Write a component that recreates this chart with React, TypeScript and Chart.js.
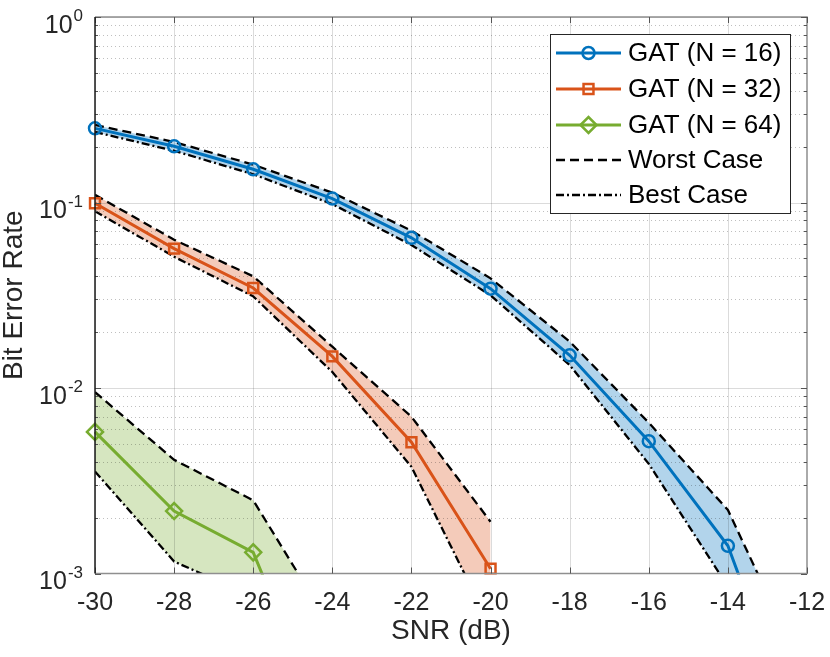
import React, { useEffect, useRef } from 'react';
import { Chart, registerables } from 'chart.js';

Chart.register(...registerables);

const FONT = "'Liberation Sans', Arial, Helvetica, sans-serif";
const TEXT = '#262626';

// ---- data ----
const snr16 = [-30, -28, -26, -24, -22, -20, -18, -16, -14, -12];
const ber16 = [0.251, 0.201, 0.151, 0.105, 0.0645, 0.0343, 0.015, 0.00517, 0.00141, 0.0001];
const worst16 = [0.262, 0.212, 0.16, 0.113, 0.0705, 0.039, 0.0178, 0.0065, 0.0022, 0.00027];
const best16 = [0.24, 0.19, 0.142, 0.098, 0.059, 0.0316, 0.0133, 0.0039, 0.00085, 0.00003];

const snr32 = [-30, -28, -26, -24, -22, -20];
const ber32 = [0.099, 0.0564, 0.0346, 0.0148, 0.0051, 0.00106];
const worst32 = [0.11, 0.063, 0.04, 0.0167, 0.007, 0.0019];
const best32 = [0.0898, 0.051, 0.0312, 0.0122, 0.00376, 0.00052];

const snr64 = [-30, -28, -26, -24];
const ber64 = [0.0058, 0.00217, 0.0013, 0.00012];
const worst64 = [0.0095, 0.0041, 0.00248, 0.0005];
const best64 = [0.00355, 0.00116, 0.00075, 0.00005];

const xTicks = [-30, -28, -26, -24, -22, -20, -18, -16, -14, -12];
const yDecades = [-3, -2, -1, 0];
const seriesLabels = ['GAT (N = 16)', 'GAT (N = 32)', 'GAT (N = 64)'];
const boundLabels = ['Worst Case', 'Best Case'];
const seriesColors = ['#0072BD', '#D95319', '#77AC30'];
const fillColors = ['rgba(0,114,189,0.3)', 'rgba(217,83,25,0.3)', 'rgba(119,172,48,0.3)'];
const markerStyles = ['circle', 'rect', 'rectRot'];
const markerRadii = [6, 7, 8];

const WORST_DASH = [9, 5];
const BEST_DASH = [8, 3, 2, 3];
const BOUND_WIDTH = 2.3;

const pts = (xs: number[], ys: number[]) => xs.map((x, i) => ({ x, y: ys[i] }));

const series = [
  { snr: snr16, ber: ber16, worst: worst16, best: best16 },
  { snr: snr32, ber: ber32, worst: worst32, best: best32 },
  { snr: snr64, ber: ber64, worst: worst64, best: best64 },
];

function drawMarker(ctx: CanvasRenderingContext2D, style: string, x: number, y: number, r: number) {
  ctx.beginPath();
  if (style === 'circle') {
    ctx.arc(x, y, r, 0, Math.PI * 2);
  } else if (style === 'rect') {
    const s = r * Math.SQRT1_2;
    ctx.rect(x - s, y - s, 2 * s, 2 * s);
  } else {
    ctx.moveTo(x - r, y);
    ctx.lineTo(x, y - r);
    ctx.lineTo(x + r, y);
    ctx.lineTo(x, y + r);
    ctx.closePath();
  }
  ctx.stroke();
}

const decorPlugin = {
  id: 'matlabDecor',
  beforeDatasetsDraw(chart: any) {
    const { ctx, chartArea: a, scales } = chart;
    const xs = scales.x;
    const ys = scales.y;
    ctx.save();
    ctx.beginPath();
    ctx.rect(a.left, a.top, a.right - a.left, a.bottom - a.top);
    ctx.clip();
    // minor dotted grid
    ctx.lineWidth = 1;
    ctx.strokeStyle = 'rgba(0,0,0,0.25)';
    ctx.setLineDash([1, 3]);
    for (const e of yDecades.slice(0, -1)) {
      for (let k = 2; k <= 9; k++) {
        const py = Math.round(ys.getPixelForValue(k * Math.pow(10, e))) + 0.5;
        ctx.beginPath();
        ctx.moveTo(a.left, py);
        ctx.lineTo(a.right, py);
        ctx.stroke();
      }
    }
    // major grid
    ctx.setLineDash([]);
    ctx.strokeStyle = 'rgba(0,0,0,0.14)';
    for (const t of xTicks) {
      const px = Math.round(xs.getPixelForValue(t)) + 0.5;
      ctx.beginPath();
      ctx.moveTo(px, a.top);
      ctx.lineTo(px, a.bottom);
      ctx.stroke();
    }
    for (const e of yDecades) {
      const py = Math.round(ys.getPixelForValue(Math.pow(10, e))) + 0.5;
      ctx.beginPath();
      ctx.moveTo(a.left, py);
      ctx.lineTo(a.right, py);
      ctx.stroke();
    }
    ctx.restore();
  },
  afterDatasetsDraw(chart: any) {
    const { ctx, chartArea: a, scales } = chart;
    const xs = scales.x;
    const ys = scales.y;
    ctx.save();
    ctx.setLineDash([]);
    // box: top/right/bottom gray, left dark
    ctx.lineWidth = 1.5;
    ctx.strokeStyle = '#8f8f8f';
    ctx.beginPath();
    ctx.moveTo(a.left, a.top);
    ctx.lineTo(a.right, a.top);
    ctx.lineTo(a.right, a.bottom);
    ctx.lineTo(a.left, a.bottom);
    ctx.stroke();
    // ticks
    ctx.lineWidth = 1;
    ctx.strokeStyle = '#555';
    for (const t of xTicks) {
      const px = Math.round(xs.getPixelForValue(t)) + 0.5;
      ctx.beginPath();
      ctx.moveTo(px, a.bottom);
      ctx.lineTo(px, a.bottom - 6);
      ctx.moveTo(px, a.top);
      ctx.lineTo(px, a.top + 6);
      ctx.stroke();
    }
    for (const e of yDecades) {
      const py = Math.round(ys.getPixelForValue(Math.pow(10, e))) + 0.5;
      ctx.beginPath();
      ctx.moveTo(a.left, py);
      ctx.lineTo(a.left + 6, py);
      ctx.moveTo(a.right, py);
      ctx.lineTo(a.right - 6, py);
      ctx.stroke();
      if (e < 0) {
        for (let k = 2; k <= 9; k++) {
          const pm = Math.round(ys.getPixelForValue(k * Math.pow(10, e))) + 0.5;
          ctx.beginPath();
          ctx.moveTo(a.left, pm);
          ctx.lineTo(a.left + 3, pm);
          ctx.moveTo(a.right, pm);
          ctx.lineTo(a.right - 3, pm);
          ctx.stroke();
        }
      }
    }
    ctx.lineWidth = 1.5;
    ctx.strokeStyle = '#1a1a1a';
    ctx.beginPath();
    ctx.moveTo(a.left, a.top);
    ctx.lineTo(a.left, a.bottom);
    ctx.stroke();
    ctx.restore();
  },
  afterDraw(chart: any) {
    const { ctx, chartArea: a, scales } = chart;
    const ys = scales.y;
    ctx.save();
    // y tick labels 10^e
    ctx.fillStyle = TEXT;
    ctx.textAlign = 'left';
    ctx.textBaseline = 'alphabetic';
    for (const e of yDecades) {
      const py = ys.getPixelForValue(Math.pow(10, e));
      const sup = String(e);
      ctx.font = `17px ${FONT}`;
      const sw = ctx.measureText(sup).width;
      ctx.font = `25px ${FONT}`;
      const bw = ctx.measureText('10').width;
      const right = a.left - 12;
      const x0 = right - sw - bw - 1;
      ctx.fillText('10', x0, py + 15.5);
      ctx.font = `17px ${FONT}`;
      ctx.fillText(sup, x0 + bw + 1, py + 4);
    }
    // legend
    const bx = 550.5, by = 34.5, bw2 = 240, bh = 179;
    ctx.fillStyle = '#ffffff';
    ctx.fillRect(bx, by, bw2, bh);
    ctx.lineWidth = 1;
    ctx.strokeStyle = '#262626';
    ctx.strokeRect(bx, by, bw2, bh);
    const rowY = [53, 89, 125, 160, 195];
    const l0 = 556, l1 = 621, lc = 588.5;
    const labels = [...seriesLabels, ...boundLabels];
    labels.forEach((lab, i) => {
      const yy = rowY[i];
      ctx.save();
      if (i < 3) {
        ctx.strokeStyle = seriesColors[i];
        ctx.lineWidth = 3;
        ctx.setLineDash([]);
        ctx.beginPath();
        ctx.moveTo(l0, yy);
        ctx.lineTo(l1, yy);
        ctx.stroke();
        ctx.lineWidth = 2.5;
        drawMarker(ctx, markerStyles[i], lc, yy, markerRadii[i]);
      } else {
        ctx.strokeStyle = '#000';
        ctx.lineWidth = BOUND_WIDTH;
        ctx.setLineDash(i === 3 ? WORST_DASH : BEST_DASH);
        ctx.beginPath();
        ctx.moveTo(l0, yy);
        ctx.lineTo(l1, yy);
        ctx.stroke();
      }
      ctx.restore();
      ctx.fillStyle = '#000';
      ctx.font = `26px ${FONT}`;
      ctx.textBaseline = 'middle';
      ctx.textAlign = 'left';
      ctx.fillText(lab, 628, yy + 1);
    });
    ctx.restore();
  },
};

export default function App() {
  const canvasRef = useRef<HTMLCanvasElement | null>(null);

  useEffect(() => {
    document.body.style.margin = '0';
    const canvas = canvasRef.current;
    if (!canvas) return;

    const datasets: any[] = [];
    series.forEach((s, i) => {
      datasets.push({
        label: boundLabels[0],
        data: pts(s.snr, s.worst),
        borderColor: '#000',
        borderWidth: BOUND_WIDTH,
        borderDash: WORST_DASH,
        pointRadius: 0,
        fill: { target: '+1' },
        backgroundColor: fillColors[i],
        order: 1,
      });
      datasets.push({
        label: boundLabels[1],
        data: pts(s.snr, s.best),
        borderColor: '#000',
        borderWidth: BOUND_WIDTH,
        borderDash: BEST_DASH,
        pointRadius: 0,
        fill: false,
        order: 1,
      });
      datasets.push({
        label: seriesLabels[i],
        data: pts(s.snr, s.ber),
        borderColor: seriesColors[i],
        borderWidth: 3,
        pointStyle: markerStyles[i],
        pointRadius: markerRadii[i],
        pointBorderWidth: 2.5,
        pointBorderColor: seriesColors[i],
        pointBackgroundColor: 'rgba(0,0,0,0)',
        fill: false,
        order: 0,
        clip: { left: 12, top: 12, right: 0, bottom: 1 },
      });
    });

    const chart = new Chart(canvas, {
      type: 'line',
      data: { datasets },
      options: {
        animation: false,
        responsive: false,
        devicePixelRatio: 1,
        layout: { padding: { top: 17, right: 23, left: 0, bottom: 0 } },
        plugins: {
          legend: { display: false },
          tooltip: { enabled: false },
          filler: { drawTime: 'beforeDatasetsDraw', propagate: false },
        },
        elements: { line: { tension: 0, borderJoinStyle: 'miter' } },
        scales: {
          x: {
            type: 'linear',
            min: -30,
            max: -12,
            grid: { display: false, drawTicks: false },
            border: { display: false },
            ticks: {
              stepSize: 2,
              padding: 17,
              color: TEXT,
              font: { family: FONT, size: 25, lineHeight: 1 },
              maxRotation: 0,
              callback: (v: any) => (xTicks.includes(Number(v)) ? String(v) : ''),
            },
            title: {
              display: true,
              text: 'SNR (dB)',
              color: TEXT,
              font: { family: FONT, size: 28, lineHeight: 1 },
              padding: { top: 0, bottom: 12 },
            },
            afterFit: (scale: any) => {
              scale.height = 657 - 573.5;
              scale.paddingLeft = 0;
              scale.paddingRight = 0;
            },
          },
          y: {
            type: 'logarithmic',
            min: 0.001,
            max: 1,
            grid: { display: false, drawTicks: false },
            border: { display: false },
            ticks: { callback: () => '', padding: 0 },
            title: {
              display: true,
              text: 'Bit Error Rate',
              color: TEXT,
              font: { family: FONT, size: 28, lineHeight: 1 },
              padding: { top: 0, bottom: 0 },
            },
            afterFit: (scale: any) => {
              scale.width = 95;
              scale.paddingTop = 0;
              scale.paddingBottom = 0;
            },
          },
        },
      },
      plugins: [decorPlugin],
    } as any);

    return () => {
      chart.destroy();
    };
  }, []);

  return (
    <div style={{ width: 830, height: 657, background: '#fff' }}>
      <canvas ref={canvasRef} width={830} height={657} />
    </div>
  );
}
